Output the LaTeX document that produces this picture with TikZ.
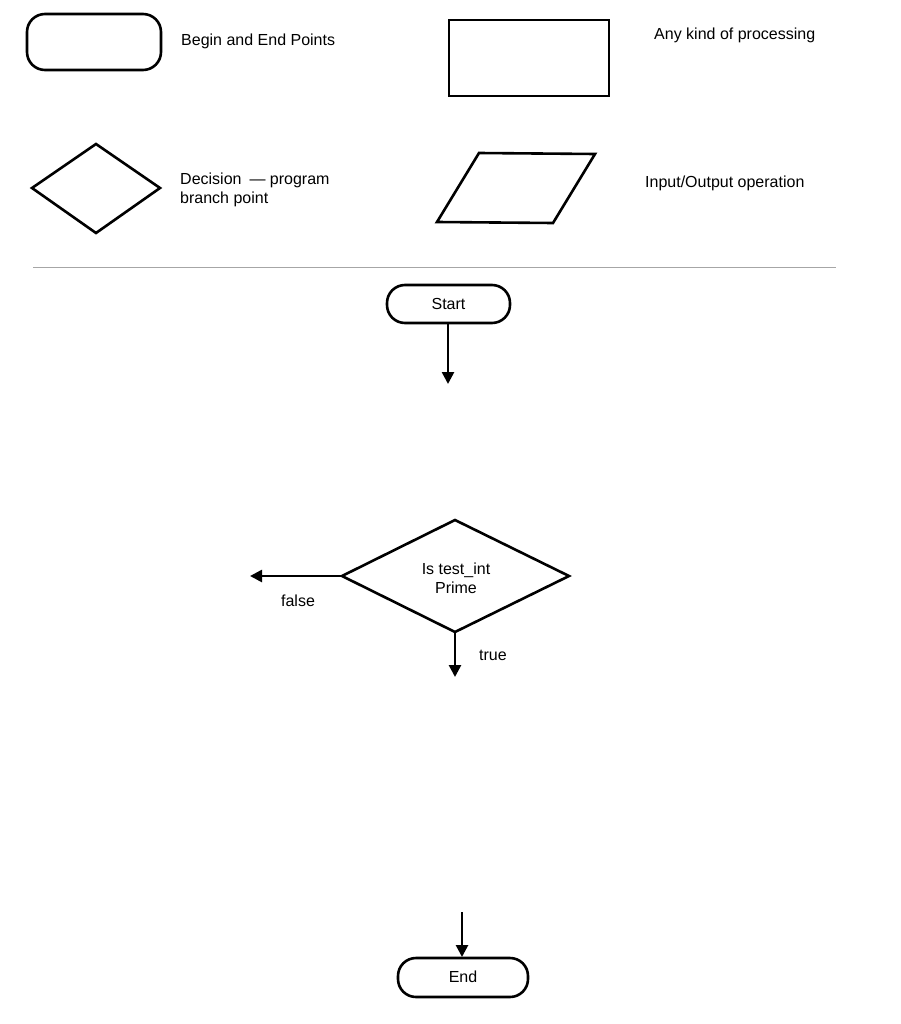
\documentclass[tikz,border=0pt]{standalone}
\usepackage{fontspec}
\setmainfont{Liberation Sans}
\usetikzlibrary{arrows.meta,shapes.geometric}
\begin{document}
\begin{tikzpicture}[x=1pt,y=-1pt,
  shp/.style={draw,line width=2.6pt},
  term/.style={shp,rounded corners=18pt},
  lbl/.style={font=\fontsize{16}{19}\selectfont,inner sep=0pt},
  arr/.style={line width=2.6pt,-{Triangle[length=12pt,width=12pt]}}]
\useasboundingbox (0,0) rectangle (901,1024);
% legend
\draw[term] (27,14) rectangle (161,70);
\node[lbl,anchor=west] (t1) at (181,41) {Begin and End Points};
\draw[shp] (449,20) rectangle (609,96);
\node[lbl,anchor=west] (t2) at (654,35) {Any kind of processing};
\draw[shp] (32,188) -- (96,144) -- (160,188) -- (96,233) -- cycle;
\node[lbl,anchor=north west,align=left] (t3) at (180,173) {Decision\enspace — program\\branch point};
\draw[shp] (437,222) -- (479,153) -- (595,154) -- (553,223) -- cycle;
\node[lbl,anchor=west] (t4) at (645,183) {Input/Output operation};
\draw[gray!70,line width=1pt] (33,267) -- (836,267);
% flow
\draw[term] (387,285) rectangle (510,323);
\node[lbl] (start) at (448.5,304) {Start};
\coordinate (s0) at (448,323);
\coordinate (s1) at (448,384);
\draw[arr] (s0) -- (s1);
\draw[shp] (342,576) coordinate (dl) -- (455,520) -- (569,576) -- (455,632) coordinate (db) -- cycle;
\node[lbl,align=center] (dec) at (456,578) {Is test\_int\\Prime};
\coordinate (fe) at (250,576);
\draw[arr] (dl) -- (fe);
\node[lbl] (fl) at (298,601) {false};
\coordinate (te) at (455,677);
\draw[arr] (db) -- (te);
\node[lbl] (tl) at (493,655) {true};
\coordinate (e0) at (462,912);
\coordinate (e1) at (462,957);
\draw[arr] (e0) -- (e1);
\draw[term] (398,958) rectangle (528,997);
\node[lbl] (end) at (463,977) {End};
\end{tikzpicture}
\end{document}
